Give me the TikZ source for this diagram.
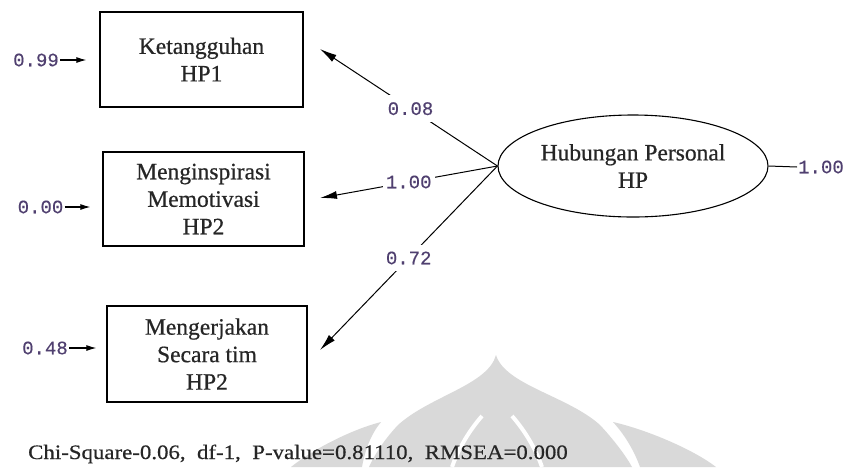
\documentclass[tikz,border=0pt]{standalone}
\usepackage{fontspec}
\setmainfont{Liberation Serif}[FakeBold=0.6]
\newfontfamily\fitfont{Liberation Serif}[FakeBold=0.5,FakeStretch=1.115]
\newfontfamily\monofont{Liberation Mono}[FakeBold=0.3]
\usetikzlibrary{shapes.geometric,arrows.meta}
\definecolor{numink}{RGB}{80,64,112}
\definecolor{textink}{RGB}{38,38,38}
\definecolor{markgray}{RGB}{217,217,217}
\tikzset{
  indicator/.style={draw, line width=1.3pt, align=center, inner sep=0pt, text=textink,
    font=\fontsize{23.5}{27.5}\selectfont},
  latentvar/.style={ellipse, draw, line width=1.1pt, align=center, inner sep=0pt,
    minimum width=270pt, minimum height=102pt, text=textink,
    font=\fontsize{23.5}{27.5}\selectfont},
  numtext/.style={font=\monofont\fontsize{19}{19}\selectfont, text=numink, inner sep=1pt},
  loadlabel/.style={numtext, fill=white, inner xsep=3pt, inner ysep=7pt},
  loadarrow/.style={line width=1pt, -{Latex[length=17pt,width=8pt]}},
  errarrow/.style={line width=1.1pt, -{Latex[length=10pt,width=6pt]}},
}
\begin{document}
\begin{tikzpicture}[x=1pt,y=-1pt]
\useasboundingbox (0,0) rectangle (848,467);
\fill[white] (0,0) rectangle (848,467);

% faint emblem behind the fit statistics
\begin{scope}[markgray]
  % central dome
  \fill (496,355) .. controls (488,385) and (430,396) .. (398,425)
        .. controls (382,442) and (373,458) .. (369,467) -- (632,467)
        .. controls (626,456) and (614,440) .. (600,425)
        .. controls (568,396) and (505,385) .. (496,355) -- cycle;
  % side wings
  \fill (381,422) .. controls (350,430) and (312,450) .. (291,467) -- (362,467)
        .. controls (365,450) and (371,434) .. (381,422) -- cycle;
  \fill (613,422) .. controls (648,430) and (694,450) .. (716,467) -- (640,467)
        .. controls (634,450) and (624,434) .. (613,422) -- cycle;
\end{scope}
% white grooves of the dome
\draw[white, line width=4pt] (482,416) .. controls (468,432) and (458,450) .. (452,467);
\draw[white, line width=4pt] (512,416) .. controls (526,432) and (536,450) .. (542,467);

% observed indicators
\node[indicator, minimum width=203pt, minimum height=95pt] (b1) at (201.5,59.5)
  {Ketangguhan\\HP1};
\node[indicator, minimum width=201pt, minimum height=94pt] (b2) at (203.5,199)
  {Menginspirasi\\Memotivasi\\HP2};
\node[indicator, minimum width=200pt, minimum height=96pt] (b3) at (207,354)
  {Mengerjakan\\Secara tim\\HP2};

% latent variable
\node[latentvar] (hp) at (633,166) {Hubungan Personal\\HP};

% error variances
\node[numtext] (e1) at (36,60) {0.99};
\node[numtext] (e2) at (40.5,207) {0.00};
\node[numtext] (e3) at (45,348) {0.48};
\draw[errarrow, shorten >=13pt] (e1.east) -- (e1.east -| b1.west);
\draw[errarrow, shorten >=12pt] (e2.east) -- (e2.east -| b2.west);
\draw[errarrow, shorten >=10pt] (e3.east) -- (e3.east -| b3.west);

% latent variance
\node[numtext, anchor=west] (vhp) at (797,167) {1.00};
\draw[line width=1pt] (hp.east) -- (vhp.west);

% loadings
\coordinate (t1) at (320,49);
\coordinate (t2) at (320,198);
\coordinate (t3) at (320,350);
\draw[loadarrow] (hp.west) -- (t1);
\draw[loadarrow] (hp.west) -- (t2);
\draw[loadarrow] (hp.west) -- (t3);
\path (hp.west) -- (t1) node[loadlabel, pos=0.49] (l1) {0.08};
\path (hp.west) -- (t2) node[loadlabel, pos=0.5] (l2) {1.00};
\path (hp.west) -- (t3) node[loadlabel, pos=0.5] (l3) {0.72};

% fit statistics
\node[anchor=base west, inner sep=0pt, text=textink, font=\fitfont\fontsize{20.5}{24}\selectfont] (fit) at (28,459)
  {Chi-Square-0.06,\ \ df-1,\ \ P-value=0.81110,\ \ RMSEA=0.000};
\end{tikzpicture}
\end{document}
